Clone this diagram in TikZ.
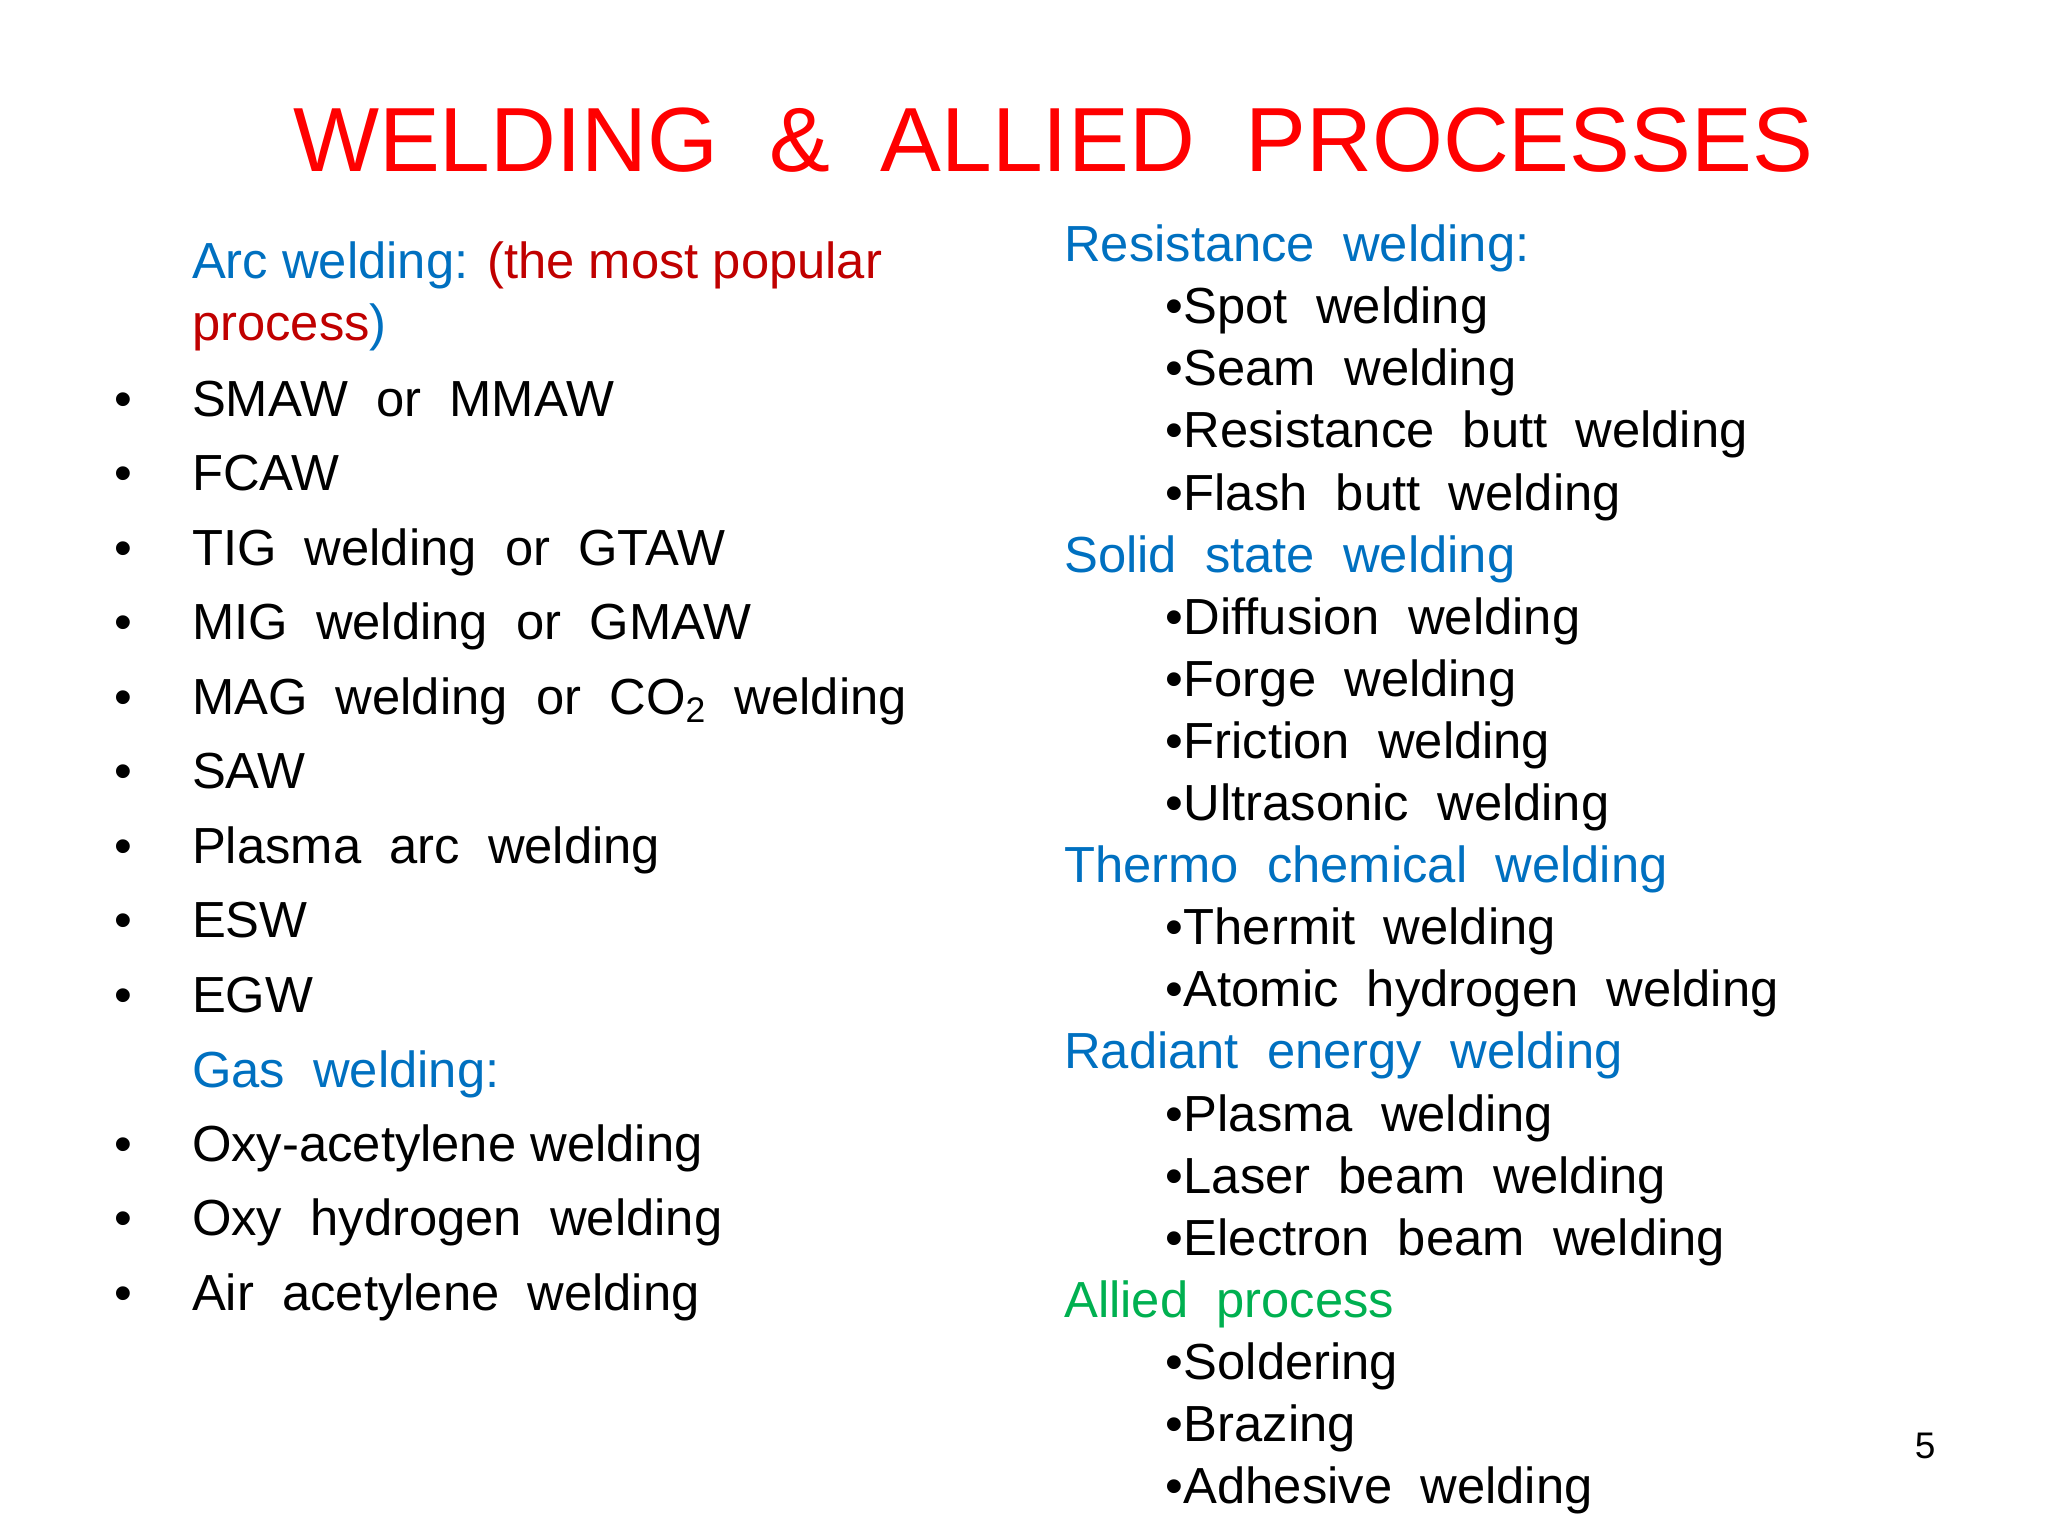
\documentclass[tikz,border=0pt]{standalone}
\usepackage{fontspec}
\setmainfont{Liberation Sans}
\definecolor{hblue}{RGB}{0,112,192}
\definecolor{dred}{RGB}{192,0,0}
\definecolor{tred}{RGB}{255,0,0}
\definecolor{hgreen}{RGB}{0,176,80}
\newcommand{\ws}{\ \ }
\begin{document}
\begin{tikzpicture}[x=0.5pt,y=-0.5pt,
  txt/.style={anchor=base west,inner sep=0pt,font=\fontsize{19.2}{23}\selectfont},
  head/.style={txt,text=hblue}]
\useasboundingbox (0,0) rectangle (1550,1162.5);
\begin{scope}[shift={(-8,-5)}]
\node[anchor=base,inner sep=0pt,text=tred,font=\fontsize{34.5}{40}\selectfont] (title) at (805,135) {WELDING\ws\&\ws ALLIED\ws PROCESSES};
% left column
\node[head] (arc) at (153,216) {Arc welding: \textcolor{dred}{(the most popular}};
\node[txt,text=dred] (arc2) at (153,263) {process\textcolor{hblue}{)}};
\foreach \t [count=\i] in {SMAW\ws or\ws MMAW, FCAW, TIG\ws welding\ws or\ws GTAW, MIG\ws welding\ws or\ws GMAW, MAG\ws welding\ws or\ws CO\textsubscript{2}\ws welding, SAW, Plasma\ws arc\ws welding, ESW, EGW}{
  \node[txt] (l\i) at (153,{320+56.4*(\i-1)}) {\t};
  \node[txt] (b\i) at (94,{320+56.4*(\i-1)}) {•};
}
\node[head] (gas) at (153,828) {Gas\ws welding:};
\foreach \t [count=\i] in {Oxy-acetylene welding, Oxy\ws hydrogen\ws welding, Air\ws acetylene\ws welding}{
  \node[txt] (g\i) at (153,{884+56.4*(\i-1)}) {\t};
  \node[txt] (gb\i) at (94,{884+56.4*(\i-1)}) {•};
}
% right column
\node[head] (r0) at (813,203) {Resistance\ws welding:};
\node[txt] (r1) at (890,250) {•Spot\ws welding};
\node[txt] (r2) at (890,297) {•Seam\ws welding};
\node[txt] (r3) at (890,344) {•Resistance\ws butt\ws welding};
\node[txt] (r4) at (890,391) {•Flash\ws butt\ws welding};
\node[head] (s0) at (813,438) {Solid\ws state\ws welding};
\node[txt] (s1) at (890,485) {•Diffusion\ws welding};
\node[txt] (s2) at (890,532) {•Forge\ws welding};
\node[txt] (s3) at (890,579) {•Friction\ws welding};
\node[txt] (s4) at (890,626) {•Ultrasonic\ws welding};
\node[head] (t0) at (813,673) {Thermo\ws chemical\ws welding};
\node[txt] (t1) at (890,720) {•Thermit\ws welding};
\node[txt] (t2) at (890,767) {•Atomic\ws hydrogen\ws welding};
\node[head] (e0) at (813,814) {Radiant\ws energy\ws welding};
\node[txt] (e1) at (890,861) {•Plasma\ws welding};
\node[txt] (e2) at (890,908) {•Laser\ws beam\ws welding};
\node[txt] (e3) at (890,955) {•Electron\ws beam\ws welding};
\node[txt,text=hgreen] (a0) at (813,1002) {Allied\ws process};
\node[txt] (a1) at (890,1049) {•Soldering};
\node[txt] (a2) at (890,1096) {•Brazing};
\node[txt] (a3) at (890,1143) {•Adhesive\ws welding};
\node[anchor=base,inner sep=0pt,font=\fontsize{14}{16}\selectfont] (pg) at (1465,1109) {5};
\end{scope}
\end{tikzpicture}
\end{document}
